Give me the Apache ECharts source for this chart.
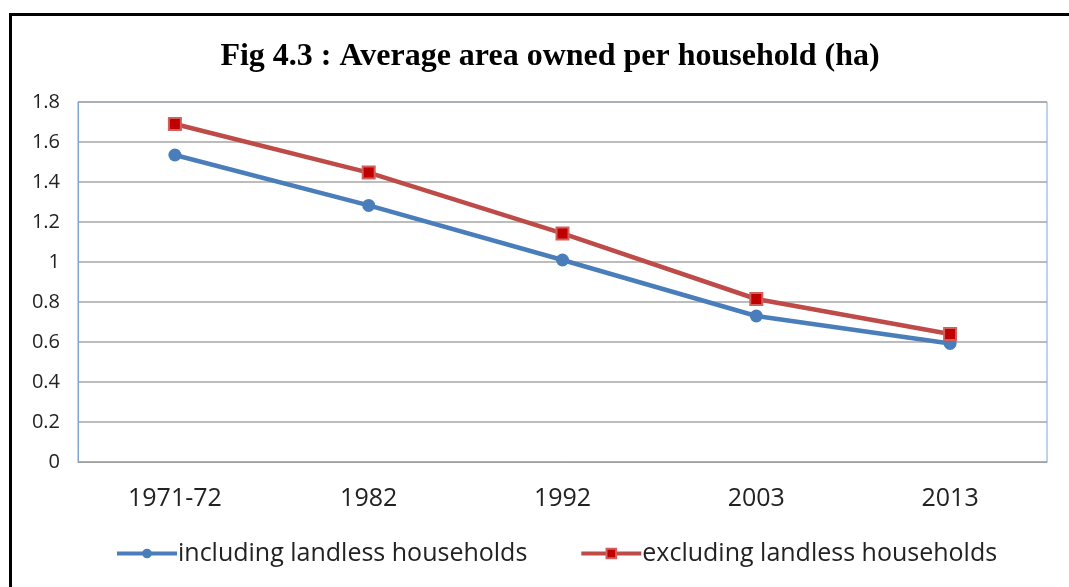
<!DOCTYPE html>
<html>
<head>
<meta charset="utf-8">
<script src="https://cdn.jsdelivr.net/npm/echarts@6/dist/echarts.min.js"></script>
<style>
  html, body { margin: 0; padding: 0; background: #fff; }
  #chart { width: 1069px; height: 587px; }
</style>
</head>
<body>
<div id="chart"></div>
<script>
const categories = ["1971-72", "1982", "1992", "2003", "2013"];
const includingLandless = [1.535, 1.283, 1.01, 0.73, 0.593];
const excludingLandless = [1.69, 1.447, 1.143, 0.815, 0.64];
const yTicks = { min: 0, max: 1.8, interval: 0.2 };

const chart = echarts.init(document.getElementById("chart"));
chart.setOption({
  animation: false,
  title: {
    text: "Fig 4.3 : Average area owned per household (ha)",
    left: 545,
    top: 36,
    textAlign: "center",
    textStyle: { fontFamily: "Liberation Serif", fontWeight: "bold", fontSize: 32, color: "#000" },
  },
  graphic: [
    {
      type: "polyline",
      shape: { points: [[10.5, 600], [10.5, 14.5], [1080, 14.5]] },
      style: { stroke: "#000", lineWidth: 3, fill: null },
    },
  ],
  grid: {
    left: 78, right: 22, top: 102, bottom: 125,
    show: true, borderColor: "#7EA3D3", borderWidth: 1,
  },
  legend: {
    bottom: 16,
    left: 110,
    itemWidth: 60,
    itemHeight: 12,
    itemGap: 52,
    lineStyle: { width: 4 },
    textStyle: { fontFamily: "Open Sans", fontSize: 25, color: "#222", padding: [0, 0, 0, -4] },
  },
  xAxis: {
    type: "category",
    data: categories,
    boundaryGap: true,
    axisLine: { lineStyle: { color: "#A0A0A0", width: 1 } },
    axisTick: { show: false },
    axisLabel: { margin: 24, fontFamily: "Open Sans", fontSize: 25, color: "#222" },
  },
  yAxis: {
    type: "value",
    min: yTicks.min,
    max: yTicks.max,
    interval: yTicks.interval,
    axisLine: { show: true, lineStyle: { color: "#7EA3D3", width: 1 } },
    axisTick: { show: false },
    splitLine: { lineStyle: { color: "#A6A6A6", width: 1.5 } },
    axisLabel: { margin: 18, fontFamily: "Open Sans", fontSize: 20, color: "#222" },
  },
  series: [
    {
      name: "including landless households",
      type: "line",
      data: includingLandless,
      symbol: "circle",
      symbolSize: 13,
      lineStyle: { color: "#4A7EBB", width: 4.5 },
      itemStyle: { color: "#4A7EBB" },
    },
    {
      name: "excluding landless households",
      type: "line",
      data: excludingLandless,
      symbol: "rect",
      symbolSize: 12,
      lineStyle: { color: "#BE4B48", width: 4.5 },
      itemStyle: { color: "#C00000", borderColor: "#D0605C", borderWidth: 2 },
    },
  ],
});
</script>
</body>
</html>
